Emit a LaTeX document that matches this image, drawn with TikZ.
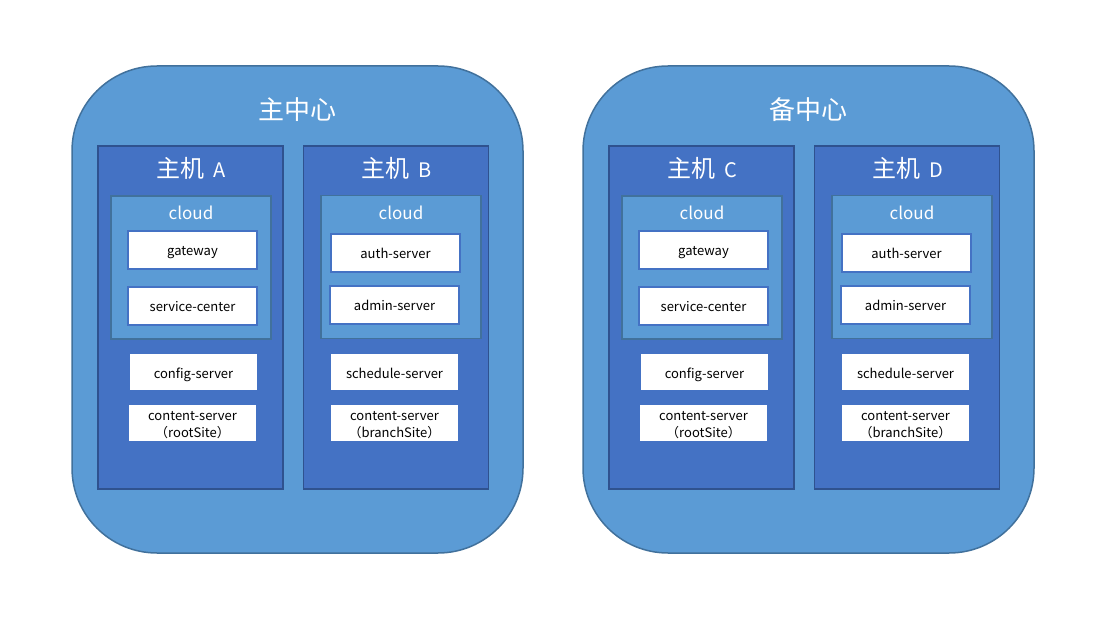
\documentclass[tikz,border=0pt]{standalone}
\usepackage{fontspec}
\setmainfont{Noto Sans CJK SC}
\definecolor{outerfill}{HTML}{5B9BD5}
\definecolor{outerline}{HTML}{41719C}
\definecolor{hostfill}{HTML}{4472C4}
\definecolor{hostline}{HTML}{2F528F}
\newcommand{\hostname}[1]{主机\hspace{9pt}{\fontsize{20}{24}\selectfont #1}}
\tikzset{
  center/.style={draw=outerline, fill=outerfill, line width=1.5pt, rounded corners=85pt, minimum width=451pt, minimum height=487pt},
  host/.style={draw=hostline, fill=hostfill, line width=1.5pt, minimum width=185pt, minimum height=343pt},
  cloudbox/.style={draw=outerline, fill=outerfill, line width=1.5pt, minimum width=160pt, minimum height=143pt},
  svc/.style={draw=hostfill, fill=white, line width=1.5pt, minimum width=129pt, minimum height=38pt, font=\fontsize{13}{15}\selectfont, text height=12pt, text depth=0pt},
  plain/.style={fill=white, minimum width=127pt, minimum height=36pt, font=\fontsize{13}{15}\selectfont, text height=12pt, text depth=0pt},
  plaintwo/.style={fill=white, minimum width=127pt, minimum height=36pt, font=\fontsize{13}{17}\selectfont, align=center, inner sep=0pt, text height=29pt, text depth=0pt},
  title/.style={text=white, font=\fontsize{26}{30}\selectfont},
  hosttitle/.style={text=white, font=\fontsize{24}{28}\selectfont},
  cloudtitle/.style={text=white, font=\fontsize{17}{20}\selectfont}
}
\begin{document}
\begin{tikzpicture}[x=1pt, y=-1pt]
\useasboundingbox (0,0) rectangle (1102,617);

% main centre
\node[center] (main) at (297.5, 309.5) {};
\node[title] (maintitle) at (297.5, 110) {主中心};
\node[host] (hostA) at (190.5, 317.5) {};
\node[hosttitle] (hostAtitle) at (191.5, 168) {\hostname{A}};
\node[cloudbox] (cloudA) at (191, 267.5) {};
\node[cloudtitle] (cloudAtitle) at (191, 213) {cloud};
\node[svc] (gatewayA) at (192.5, 250) {gateway};
\node[svc] (serviceA) at (192.5, 306) {service-center};
\node[plain] (configA) at (193.5, 372) {config-server};
\node[plaintwo] (contentA) at (192.5, 423) {content-server\\（rootSite）};

\node[host] (hostB) at (396, 317.5) {};
\node[hosttitle] (hostBtitle) at (397, 168) {\hostname{B}};
\node[cloudbox] (cloudB) at (401, 267) {};
\node[cloudtitle] (cloudBtitle) at (401, 213) {cloud};
\node[svc] (authB) at (395.5, 253) {auth-server};
\node[svc] (adminB) at (394.5, 305) {admin-server};
\node[plain] (scheduleB) at (394.5, 372) {schedule-server};
\node[plaintwo] (contentB) at (394.5, 423) {content-server\\（branchSite）};

% backup centre
\node[center] (backup) at (808.5, 309.5) {};
\node[title] (backuptitle) at (808.5, 110) {备中心};
\node[host] (hostC) at (701.5, 317.5) {};
\node[hosttitle] (hostCtitle) at (702.5, 168) {\hostname{C}};
\node[cloudbox] (cloudC) at (702, 267.5) {};
\node[cloudtitle] (cloudCtitle) at (702, 213) {cloud};
\node[svc] (gatewayC) at (703.5, 250) {gateway};
\node[svc] (serviceC) at (703.5, 306) {service-center};
\node[plain] (configC) at (704.5, 372) {config-server};
\node[plaintwo] (contentC) at (703.5, 423) {content-server\\（rootSite）};

\node[host] (hostD) at (907, 317.5) {};
\node[hosttitle] (hostDtitle) at (908, 168) {\hostname{D}};
\node[cloudbox] (cloudD) at (912, 267) {};
\node[cloudtitle] (cloudDtitle) at (912, 213) {cloud};
\node[svc] (authD) at (906.5, 253) {auth-server};
\node[svc] (adminD) at (905.5, 305) {admin-server};
\node[plain] (scheduleD) at (905.5, 372) {schedule-server};
\node[plaintwo] (contentD) at (905.5, 423) {content-server\\（branchSite）};
\end{tikzpicture}
\end{document}
